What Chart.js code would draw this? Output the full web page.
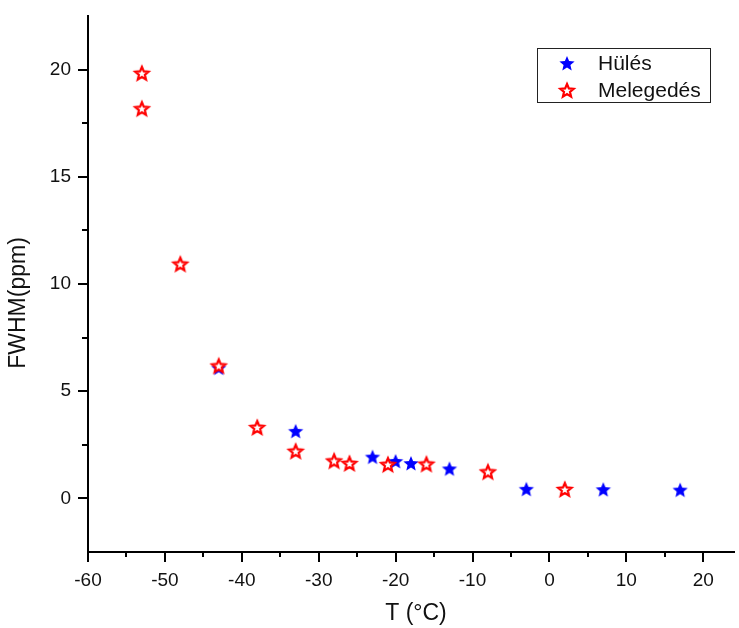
<!DOCTYPE html>
<html>
<head>
<meta charset="utf-8">
<script src="https://cdn.jsdelivr.net/npm/chart.js@4.4.1/dist/chart.umd.min.js"></script>
<style>
  html, body { margin: 0; padding: 0; background: #fff; }
  #wrap { width: 739px; height: 628px; }
</style>
</head>
<body>
<div id="wrap"><canvas id="chartFwhm"></canvas></div>
<script>
// donnees
var hulesT    = [-43, -33, -23, -20, -18, -13, -3, 7, 17];
var hulesFwhm = [6.1, 3.15, 1.95, 1.75, 1.65, 1.4, 0.45, 0.43, 0.41];

var melegT    = [-53, -53, -48, -43, -38, -33, -28, -26, -21, -16, -8, 2];
var melegFwhm = [19.85, 18.2, 10.95, 6.2, 3.33, 2.22, 1.77, 1.65, 1.6, 1.62, 1.26, 0.44];

var xTicks = [-60, -55, -50, -45, -40, -35, -30, -25, -20, -15, -10, -5, 0, 5, 10, 15, 20];
var yTicks = [0, 2.5, 5, 7.5, 10, 12.5, 15, 17.5, 20];

var labelHules = 'Hülés';
var labelMeleg = 'Melegedés';
var titreX = 'T (°C)';
var titreY = 'FWHM(ppm)';

var police = 'Liberation Sans, Arial, sans-serif';

// etoile a 5 branches dessinee dans un petit canvas (pointStyle)
function makeStar(fill, stroke, lw, R) {
    var c = document.createElement('canvas');
    var s = 2 * R + 6;
    c.width = s; c.height = s;
    var g = c.getContext('2d');
    var r = R * 0.45;
    g.beginPath();
    for (var k = 0; k < 10; k++) {
        var rad = (k % 2 === 0) ? R : r;
        var a = -Math.PI / 2 + k * Math.PI / 5;
        var px = s / 2 + rad * Math.cos(a);
        var py = s / 2 + 1 + rad * Math.sin(a);
        if (k === 0) g.moveTo(px, py); else g.lineTo(px, py);
    }
    g.closePath();
    g.fillStyle = fill;
    g.fill();
    if (stroke) {
        g.lineWidth = lw;
        g.lineJoin = 'miter';
        g.strokeStyle = stroke;
        g.stroke();
    }
    return c;
}
var starBleu = makeStar('#0000ff', null, 0, 8);
var starRouge = makeStar('#ffffff', '#ff0000', 2.2, 7);

function toPoints(xs, ys) {
    var pts = [];
    for (var i = 0; i < xs.length; i++) pts.push({x: xs[i], y: ys[i]});
    return pts;
}

// ticks + titres + legende
var decoPlugin = {
    id: 'deco',
    afterDraw: function (chart) {
        var ctx = chart.ctx;
        var sx = chart.scales.x, sy = chart.scales.y;
        var ca = chart.chartArea;
        ctx.save();
        ctx.strokeStyle = '#000';
        ctx.lineWidth = 2;
        xTicks.forEach(function (v) {
            var px = Math.round(sx.getPixelForValue(v));
            var len = (v % 10 === 0) ? 10 : 5;
            ctx.beginPath();
            ctx.moveTo(px, ca.bottom);
            ctx.lineTo(px, ca.bottom + len);
            ctx.stroke();
        });
        yTicks.forEach(function (v) {
            var py = Math.round(sy.getPixelForValue(v));
            var len = (v % 5 === 0) ? 10 : 6;
            ctx.beginPath();
            ctx.moveTo(ca.left, py);
            ctx.lineTo(ca.left - len, py);
            ctx.stroke();
        });

        // titres des axes
        ctx.fillStyle = '#111';
        ctx.font = '23px ' + police;
        ctx.textAlign = 'center';
        ctx.textBaseline = 'middle';
        ctx.fillText(titreX, 416, 614);
        ctx.save();
        ctx.translate(19, 303);
        ctx.rotate(-Math.PI / 2);
        ctx.fillText(titreY, 0, 0);
        ctx.restore();

        // legende
        ctx.lineWidth = 1;
        ctx.strokeStyle = '#222';
        ctx.strokeRect(537.5, 48.5, 173, 54);
        ctx.font = '21px ' + police;
        ctx.textAlign = 'left';
        ctx.fillStyle = '#111';
        ctx.drawImage(starBleu, 567 - starBleu.width / 2, 63 - starBleu.height / 2);
        ctx.fillText(labelHules, 598, 64);
        ctx.drawImage(starRouge, 567 - starRouge.width / 2, 90 - starRouge.height / 2);
        ctx.fillText(labelMeleg, 598, 91);
        ctx.restore();
    }
};

var ctxFwhm = document.getElementById('chartFwhm').getContext('2d');
var chartFwhm = new Chart(ctxFwhm, {
    type: 'scatter',
    data: {
        datasets: [
            {
                label: labelHules,
                data: toPoints(hulesT, hulesFwhm),
                pointStyle: starBleu,
                order: 1
            },
            {
                label: labelMeleg,
                data: toPoints(melegT, melegFwhm),
                pointStyle: starRouge,
                order: 0
            }
        ]
    },
    options: {
        responsive: true,
        maintainAspectRatio: false,
        animation: false,
        layout: { padding: { top: 16, right: 1, left: 0, bottom: 0 } },
        plugins: {
            legend: { display: false },
            tooltip: { enabled: false }
        },
        scales: {
            x: {
                type: 'linear',
                min: -60,
                max: 24,
                grid: { display: false, drawTicks: false },
                border: { display: true, width: 2, color: '#000' },
                afterBuildTicks: function (scale) {
                    scale.ticks = xTicks.map(function (v) { return {value: v}; });
                },
                afterFit: function (scale) { scale.height = 76; },
                ticks: {
                    padding: 17,
                    color: '#111',
                    font: { family: police, size: 19 },
                    callback: function (v) { return (v % 10 === 0) ? v : ''; }
                }
            },
            y: {
                type: 'linear',
                min: -2.5,
                max: 22.5,
                grid: { display: false, drawTicks: false },
                border: { display: true, width: 2, color: '#000' },
                afterBuildTicks: function (scale) {
                    scale.ticks = yTicks.map(function (v) { return {value: v}; });
                },
                afterFit: function (scale) {
                    scale.width = 88;
                    scale.paddingTop = 0;
                    scale.paddingBottom = 0;
                },
                ticks: {
                    padding: 17,
                    color: '#111',
                    font: { family: police, size: 19 },
                    callback: function (v) { return (v % 5 === 0) ? v : ''; }
                }
            }
        }
    },
    plugins: [decoPlugin]
});
</script>
</body>
</html>
